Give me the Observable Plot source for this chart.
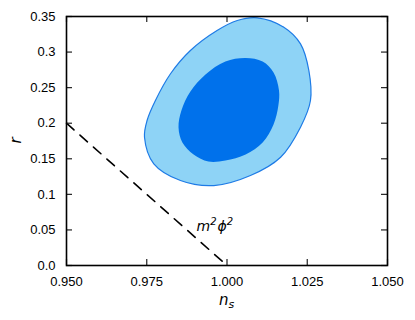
<!DOCTYPE html>
<html>
<head>
<meta charset="utf-8">
<script src="https://cdn.jsdelivr.net/npm/d3@7"></script>
<script src="https://cdn.jsdelivr.net/npm/@observablehq/plot@0.6"></script>
<style>
  html, body { margin: 0; padding: 0; background: #fff; }
  #chart svg { display: block; }
</style>
</head>
<body>
<div id="chart"></div>
<script>
// Outer (95%) contour, traced clockwise from the top
const outerNs = [1.0094, 1.0177, 1.0229, 1.0255, 1.0260, 1.0229, 1.0167, 1.0073, 0.9959, 0.9855, 0.9772, 0.9743, 0.9751, 0.9777, 0.9824, 0.9886, 0.9969, 1.0032];
const outerR  = [0.3482, 0.3350, 0.3116, 0.2741, 0.2319, 0.1944, 0.1522, 0.1265, 0.1124, 0.1195, 0.1430, 0.1803, 0.2038, 0.2319, 0.2695, 0.3022, 0.3303, 0.3444];
// Inner (68%) contour, traced clockwise from the top
const innerNs = [1.0058, 1.0111, 1.0145, 1.0162, 1.0160, 1.0145, 1.0111, 1.0058, 0.9995, 0.9942, 0.9896, 0.9861, 0.9849, 0.9858, 0.9886, 0.9933, 0.9995];
const innerR  = [0.2917, 0.2867, 0.2713, 0.2460, 0.2249, 0.1982, 0.1729, 0.1560, 0.1476, 0.1462, 0.1560, 0.1729, 0.1940, 0.2179, 0.2446, 0.2685, 0.2867];
// m^2 phi^2 prediction line
const modelNs = [0.950, 1.000];
const modelR  = [0.200, 0.000];
const modelLabel = ["m", "2", "ϕ", "2"];
// Ticks
const xTicks = [0.950, 0.975, 1.000, 1.025, 1.050];
const xTickLabels = ["0.950", "0.975", "1.000", "1.025", "1.050"];
const yTicks = [0, 0.05, 0.10, 0.15, 0.20, 0.25, 0.30, 0.35];
const yTickLabels = ["0.0", "0.05", "0.1", "0.15", "0.2", "0.25", "0.3", "0.35"];

const outer = outerNs.map((x, i) => ({x, y: outerR[i]}));
const inner = innerNs.map((x, i) => ({x, y: innerR[i]}));
const model = modelNs.map((x, i) => ({x, y: modelR[i]}));

const xFmt = d => xTickLabels[xTicks.findIndex(t => Math.abs(t - d) < 1e-9)];
const yFmt = d => yTickLabels[yTicks.findIndex(t => Math.abs(t - d) < 1e-9)];

const W = 415, H = 320, mL = 66, mR = 28, mT = 16, mB = 55, tick = 6;
const innerW = W - mL - mR, innerH = H - mT - mB;

const chart = Plot.plot({
  width: W,
  height: H,
  marginLeft: mL,
  marginRight: mR,
  marginTop: mT,
  marginBottom: mB,
  style: {fontFamily: "'Liberation Sans', Arial, sans-serif", fontSize: "13px", color: "#000", background: "#fff"},
  x: {domain: [0.95, 1.05]},
  y: {domain: [0, 0.35]},
  marks: [
    Plot.line(outer, {x: "x", y: "y", curve: "catmull-rom-closed", fill: "#8ed3f6", stroke: "#1e7be6", strokeWidth: 1.2}),
    Plot.line(inner, {x: "x", y: "y", curve: "catmull-rom-closed", fill: "#0071eb", stroke: "none"}),
    Plot.line(model, {x: "x", y: "y", stroke: "black", strokeWidth: 1.6, strokeDasharray: "10,8"}),
    Plot.text([0], {x: () => 0.9905, y: () => 0.0545, text: () => modelLabel.join(""), textAnchor: "start", fontStyle: "italic", fontSize: 14, fontFamily: "'DejaVu Sans', sans-serif", className: "model-label"}),
    Plot.axisX({anchor: "bottom", ticks: xTicks, tickSize: 0, tickPadding: 11, tickFormat: xFmt, label: null}),
    Plot.axisY({anchor: "left", ticks: yTicks, tickSize: 0, tickPadding: 11, tickFormat: yFmt, label: null}),
    // inward ticks on all four sides
    Plot.ruleX(xTicks, {x: d => d, insetTop: innerH - tick, stroke: "#222", strokeWidth: 1.2}),
    Plot.ruleX(xTicks, {x: d => d, insetBottom: innerH - tick, stroke: "#222", strokeWidth: 1.2}),
    Plot.ruleY(yTicks, {y: d => d, insetRight: innerW - tick, stroke: "#222", strokeWidth: 1.2}),
    Plot.ruleY(yTicks, {y: d => d, insetLeft: innerW - tick, stroke: "#222", strokeWidth: 1.2}),
    Plot.frame({stroke: "black", strokeWidth: 1.6})
  ]
});

const svg = d3.select(chart);
// superscripts in the model label
svg.selectAll(".model-label text").each(function() {
  const t = d3.select(this);
  t.text(null);
  t.append("tspan").text(modelLabel[0]);
  t.append("tspan").attr("font-size", 10).attr("dy", -6).text(modelLabel[1]);
  t.append("tspan").attr("dy", 6).attr("dx", 1).text(modelLabel[2]);
  t.append("tspan").attr("font-size", 10).attr("dy", -6).text(modelLabel[3]);
});
// axis titles as real text
svg.append("text")
  .attr("x", mL + innerW / 2).attr("y", 305)
  .attr("text-anchor", "middle")
  .attr("font-family", "'DejaVu Sans', sans-serif")
  .attr("font-size", 15)
  .attr("font-style", "italic")
  .call(t => {
    t.append("tspan").text("n");
    t.append("tspan").attr("font-size", 11).attr("dy", 3).text("s");
  });
svg.append("text")
  .attr("transform", `translate(21,${mT + innerH / 2}) rotate(-90)`)
  .attr("text-anchor", "middle")
  .attr("font-family", "'DejaVu Sans', sans-serif")
  .attr("font-size", 15)
  .attr("font-style", "italic")
  .text("r");

document.getElementById("chart").appendChild(chart);
</script>
</body>
</html>
